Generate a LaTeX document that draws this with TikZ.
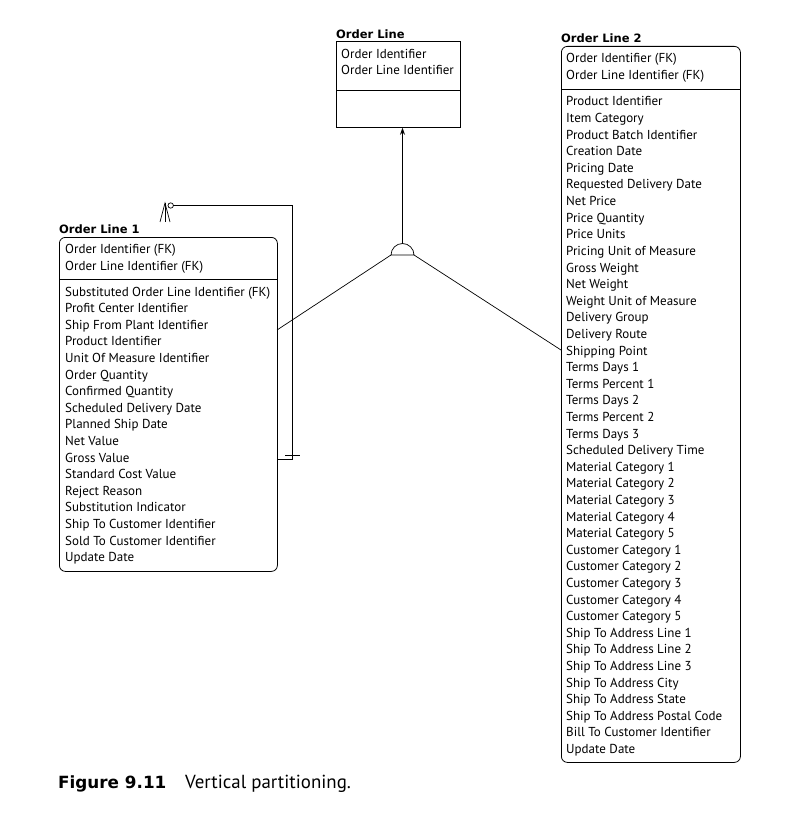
\documentclass[tikz,border=0pt]{standalone}
\usepackage{fontspec}
\setmainfont{PT Sans}
\newfontfamily\heavyfont{DejaVu Sans}
\usetikzlibrary{arrows.meta}
\newcommand\attrfont{\fontsize{13pt}{14pt}\selectfont}
\newcommand\ttlfont{\heavyfont\fontsize{11.5pt}{14pt}\selectfont\bfseries}
\begin{document}
\begin{tikzpicture}[x=1pt,y=-1pt,
  entity/.style={draw, line width=0.8pt, inner sep=0, anchor=north west},
  rentity/.style={entity, rounded corners=6pt},
  ttl/.style={font=\ttlfont, anchor=base west, inner sep=0},
  attr/.style={font=\attrfont, anchor=base west, inner sep=0},
  rel/.style={line width=0.7pt},
  divider/.style={line width=0.8pt}]
\useasboundingbox (0,0) rectangle (810,813);
% ---------- Order Line ----------
\node[ttl] (olt) at (336,38.5) {Order Line};
\node[entity, minimum width=124pt, minimum height=86pt] (ol) at (336,41) {};
\draw[divider] (336,90) -- (460,90);
\node[attr] (olk1) at (341,58.5) {Order Identifier};
\node[attr] (olk2) at (341,75) {Order Line Identifier};
% ---------- Order Line 2 ----------
\node[ttl] (ol2t) at (561,42.5) {Order Line 2};
\node[rentity, minimum width=179pt, minimum height=716pt] (ol2) at (561,46) {};
\draw[divider] (561,89) -- (740,89);
\node[attr] (ol2k1) at (566,63) {Order Identifier (FK)};
\node[attr] (ol2k2) at (566,79.5) {Order Line Identifier (FK)};
\foreach \t [count=\i from 0] in {Product Identifier, Item Category,
  Product Batch Identifier, Creation Date, Pricing Date,
  Requested Delivery Date, Net Price, Price Quantity, Price Units,
  Pricing Unit of Measure, Gross Weight, Net Weight,
  Weight Unit of Measure, Delivery Group, Delivery Route, Shipping Point,
  Terms Days 1, Terms Percent 1, Terms Days 2, Terms Percent 2,
  Terms Days 3, Scheduled Delivery Time, Material Category 1,
  Material Category 2, Material Category 3, Material Category 4,
  Material Category 5, Customer Category 1, Customer Category 2,
  Customer Category 3, Customer Category 4, Customer Category 5,
  Ship To Address Line 1, Ship To Address Line 2, Ship To Address Line 3,
  Ship To Address City, Ship To Address State,
  Ship To Address Postal Code, Bill To Customer Identifier, Update Date}
  \node[attr] (ol2a\i) at (566,{106+16.6*\i}) {\t};
% ---------- Order Line 1 ----------
\node[ttl] (ol1t) at (59,233.5) {Order Line 1};
\node[rentity, minimum width=218pt, minimum height=334pt] (ol1) at (59,237) {};
\draw[divider] (59,279) -- (277,279);
\node[attr] (ol1k1) at (65,253.5) {Order Identifier (FK)};
\node[attr] (ol1k2) at (65,270) {Order Line Identifier (FK)};
\foreach \t [count=\i from 0] in {Substituted Order Line Identifier (FK),
  Profit Center Identifier, Ship From Plant Identifier, Product Identifier,
  Unit Of Measure Identifier, Order Quantity, Confirmed Quantity,
  Scheduled Delivery Date, Planned Ship Date, Net Value, Gross Value,
  Standard Cost Value, Reject Reason, Substitution Indicator,
  Ship To Customer Identifier, Sold To Customer Identifier, Update Date}
  \node[attr] (ol1a\i) at (65,{296+16.6*\i}) {\t};
% ---------- subtype (category) symbol ----------
\coordinate (catl) at (391,255);
\coordinate (catr) at (414,255);
\coordinate (cattop) at (402.5,243.5);
\draw[rel] (catl) arc[start angle=180, end angle=360, radius=11.5] -- cycle;
\draw[rel, -{Stealth[length=7pt,width=5pt]}] (cattop) -- (cattop |- ol.south);
\coordinate (p1) at (277,330);
\coordinate (p2) at (561,350);
\draw[rel] (catl) -- (p1);
\draw[rel] (catr) -- (p2);
% ---------- recursive relationship ----------
\coordinate (r1) at (277,459);
\coordinate (r2) at (292,459);
\coordinate (r3) at (292,205.5);
\coordinate (rc) at (170.7,205.5);
\draw[rel] (r1) -- (r2) -- (r3) -- ([xshift=2.7pt]rc);
\draw[rel] (285,455) -- (300,455);
\draw[rel] (rc) circle[radius=2.7];
\coordinate (cf) at (165,203);
\draw[rel] (160,222) -- (cf) -- (170,222);
\draw[rel] (cf) -- (165,222);
% ---------- caption ----------
\node[anchor=base west, inner sep=0, font=\heavyfont\fontsize{16.8pt}{20pt}\selectfont\bfseries] (fig) at (58,788) {Figure 9.11};
\node[anchor=base west, inner sep=0, font=\fontsize{18.9pt}{20pt}\selectfont] (cap) at (185,788) {Vertical partitioning.};
\end{tikzpicture}
\end{document}
